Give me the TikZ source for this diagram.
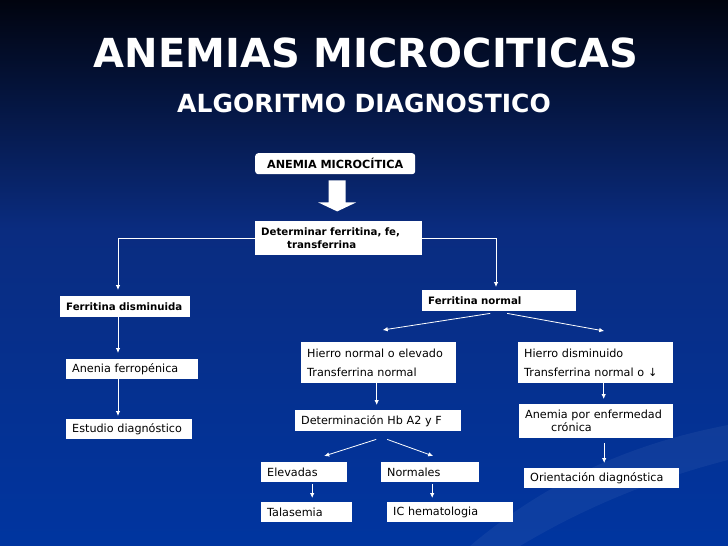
\documentclass[tikz,border=0pt]{standalone}
\usepackage{fontspec}
\setmainfont{DejaVu Sans}
\usetikzlibrary{arrows.meta,calc}

\definecolor{bgtop}{HTML}{01040F}
\definecolor{bgmid}{HTML}{0A2C80}
\definecolor{bgbot}{HTML}{0035A0}

\begin{document}
\begin{tikzpicture}[x=1pt, y=-1pt,
	arr/.style={draw=white, line width=0.8pt, -{Latex[length=5pt,width=4.5pt]}},
	box/.style={fill=white, text=black, anchor=north west, inner xsep=6pt, inner ysep=2pt, align=left, font=\fontsize{11.2}{13}\selectfont},
	boldbox/.style={box, font=\fontsize{10.2}{13}\selectfont\bfseries},
	title/.style={text=white, font=\fontsize{40}{40}\selectfont\bfseries, anchor=base},
	subtitle/.style={text=white, font=\fontsize{25}{25}\selectfont\bfseries, anchor=base}]
	% background
	\shade[top color=bgtop, bottom color=bgmid] (0,0) rectangle (728,230);
	\shade[top color=bgmid, bottom color=bgbot] (0,230) rectangle (728,546);
	\fill[white, opacity=0.05] (470,546) .. controls (560,470) and (650,440) .. (728,425) -- (728,460) .. controls (650,480) and (580,510) .. (520,546) -- cycle;
	\useasboundingbox (0,0) rectangle (728,546);
	% titles
	\node[title] (t1) at (366,67) {ANEMIAS MICROCITICAS};
	\node[subtitle] (t2) at (364,112) {ALGORITMO DIAGNOSTICO};
	% boxes
	\node[boldbox, font=\fontsize{11.2}{13}\selectfont\bfseries, rounded corners=3pt, align=center, text width=148pt, minimum height=21pt] (am) at (255,153) {ANEMIA MICROCÍTICA};
	\node[boldbox, text width=155pt, minimum height=34pt] (det) at (255,221) {Determinar ferritina, fe,\\\hspace*{26pt}transferrina};
	\node[boldbox, text width=118pt, minimum height=21pt] (fd) at (60,296) {Ferritina disminuida};
	\node[box, text width=120pt, minimum height=20pt] (af) at (66,359) {Anenia ferropénica};
	\node[box, text width=114pt, minimum height=20pt] (ed) at (66,419) {Estudio diagnóstico};
	\node[boldbox, text width=142pt, minimum height=21pt] (fn) at (422,290) {Ferritina normal};
	\node[box, text width=143pt, minimum height=41pt] (hn) at (301,342) {Hierro normal o elevado\\[6pt]Transferrina normal};
	\node[box, text width=143pt, minimum height=41pt] (hd) at (518,342) {Hierro disminuido\\[6pt]Transferrina normal o ↓};
	\node[box, text width=154pt, minimum height=21pt] (hb) at (295,410) {Determinación Hb A2 y F};
	\node[box, text width=142pt, minimum height=34pt] (ac) at (519,404) {Anemia por enfermedad\\\hspace*{26pt}crónica};
	\node[box, text width=74pt, minimum height=20pt] (el) at (261,462) {Elevadas};
	\node[box, text width=86pt, minimum height=20pt] (no) at (381,462) {Normales};
	\node[box, text width=79pt, minimum height=20pt] (ta) at (261,502) {Talasemia};
	\node[box, text width=114pt, minimum height=20pt] (ic) at (387,502) {IC hematologia};
	\node[box, text width=143pt, minimum height=20pt] (od) at (524,468) {Orientación diagnóstica};
	% block arrow
	\path ([xshift=2pt]am.south) ++(0,6) coordinate (bat);
	\fill[white] (bat) ++(-8.5,0) -- ++(17,0) -- ++(0,22) -- ++(10.5,0) -- ++(-19,9) -- ++(-19,-9) -- ++(10.5,0) -- cycle;
	% connectors
	\coordinate (lcol) at (118,0);
	\coordinate (rcol) at (496,0);
	\draw[arr, shorten >=6pt] (det.west) -| (lcol |- fd.north);
	\draw[arr, shorten >=3pt] (det.east) -| (rcol |- fn.north);
	\draw[arr, shorten >=6pt] (lcol |- fd.south) -- (lcol |- af.north);
	\draw[arr, shorten >=3pt] (lcol |- af.south) -- (lcol |- ed.north);
	\draw[arr] ([xshift=-9pt,yshift=-2pt]fn.south) -- ([xshift=4pt,yshift=12pt]hn.north);
	\draw[arr] ([xshift=8pt,yshift=-2pt]fn.south) -- ([xshift=8.5pt,yshift=11pt]hd.north);
	\draw[arr, shorten >=5pt] ([xshift=-2pt]hn.south) -- ([xshift=-2pt]hn.south |- hb.north);
	\draw[arr, shorten >=5pt] ([xshift=8pt]hd.south) -- ([xshift=8pt]hd.south |- ac.north);
	\draw[arr] ([xshift=-2pt,yshift=-8pt]hb.south) -- ([xshift=20pt,yshift=6pt]el.north);
	\draw[arr] ([xshift=9pt,yshift=-8pt]hb.south) -- ([xshift=3pt,yshift=6pt]no.north);
	\draw[arr, shorten >=4pt] ([xshift=8pt,yshift=-2pt]el.south) -- ([xshift=8pt]el.south |- ta.north);
	\draw[arr, shorten >=4pt] ([xshift=2pt,yshift=-2pt]no.south) -- ([xshift=2pt]no.south |- ic.north);
	\draw[arr, shorten >=5pt] ([xshift=8pt,yshift=-5pt]ac.south) -- ([xshift=8pt]ac.south |- od.north);
\end{tikzpicture}
\end{document}
